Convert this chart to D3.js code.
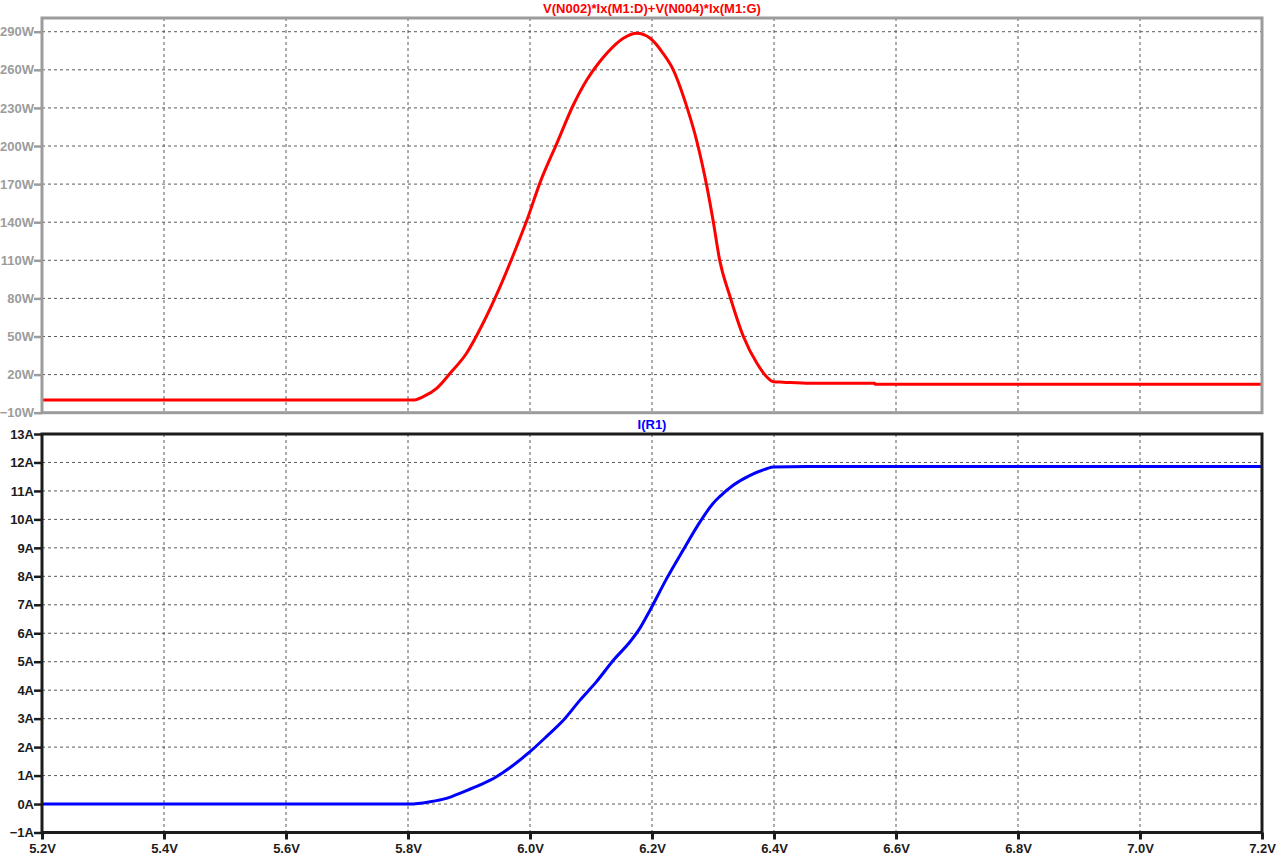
<!DOCTYPE html>
<html>
<head>
<meta charset="utf-8">
<script src="https://cdn.jsdelivr.net/npm/d3@7"></script>
<style>
  body { margin: 0; background: #fff; }
  text { font-family: "Liberation Sans", Arial, sans-serif; font-weight: bold; }
</style>
</head>
<body>
<div id="chart"></div>
<script>
// x values shared by both panes (volts)
let xTicks = [5.2, 5.4, 5.6, 5.8, 6.0, 6.2, 6.4, 6.6, 6.8, 7.0, 7.2]
let powerTicks = [-10, 20, 50, 80, 110, 140, 170, 200, 230, 260, 290]
let currentTicks = [-1, 0, 1, 2, 3, 4, 5, 6, 7, 8, 9, 10, 11, 12, 13]

let powerTitle = "V(N002)*Ix(M1:D)+V(N004)*Ix(M1:G)"
let currentTitle = "I(R1)"

// top trace: power (W)
let powerX = [5.2, 5.811, 5.825, 5.847, 5.869, 5.896, 5.923, 5.951, 5.978, 5.995,
    6.016, 6.044, 6.071, 6.093, 6.112, 6.126, 6.153, 6.175, 6.197, 6.218,
    6.235, 6.257, 6.273, 6.29, 6.3, 6.311, 6.328, 6.35, 6.372, 6.388,
    6.399, 6.415, 6.459, 6.565, 6.566, 7.2]
let powerY = [0, 0, 2.6, 9.2, 21, 36.8, 60.4, 89.2, 120.7, 141.7,
    170.6, 202.1, 232.3, 252, 265, 273, 284.8, 288.7, 284.8, 273,
    259.8, 231, 204.7, 168, 141.7, 110, 81.3, 49.8, 28.9, 18.3,
    14.4, 14, 13.1, 13.1, 12.4, 12.4]

// bottom trace: current (A)
let currentX = [5.2, 5.803, 5.836, 5.863, 5.891, 5.918, 5.945, 5.973, 6.0, 6.027,
    6.055, 6.082, 6.109, 6.137, 6.164, 6.18, 6.197, 6.224, 6.251, 6.279,
    6.3, 6.311, 6.333, 6.36, 6.388, 6.399, 6.455, 7.2]
let currentY = [0, 0, 0.08, 0.2, 0.43, 0.67, 0.96, 1.37, 1.84, 2.37,
    2.95, 3.65, 4.3, 5.06, 5.7, 6.17, 6.82, 7.92, 8.92, 9.92,
    10.56, 10.8, 11.2, 11.54, 11.78, 11.84, 11.86, 11.86]

let width = 1276,
    height = 858,
    left = 42,
    right = 1262

let svg = d3.select("#chart")
    .append("svg")
    .attr("width", width)
    .attr("height", height)

let x = d3.scaleLinear()
    .domain([5.2, 7.2])
    .range([left, right])

let yPower = d3.scaleLinear()
    .domain([-10, 300.8])
    .range([412.7, 18])

let yCurrent = d3.scaleLinear()
    .domain([-1, 13])
    .range([832.5, 434])

function drawPane(y, yTicks, top, bottom, frameColor, labelColor, unit, fmt, title, titleColor, xs, ys, lineColor) {
    let g = svg.append("g")

    // grid
    g.selectAll(".vgrid")
        .data(xTicks)
        .enter()
        .append("line")
        .attr("x1", (d) => x(d))
        .attr("x2", (d) => x(d))
        .attr("y1", top)
        .attr("y2", bottom)
        .attr("stroke", "#5a5a5a")
        .attr("stroke-width", 1)
        .attr("stroke-dasharray", "3,3")
    g.selectAll(".hgrid")
        .data(yTicks)
        .enter()
        .append("line")
        .attr("x1", left)
        .attr("x2", right)
        .attr("y1", (d) => y(d))
        .attr("y2", (d) => y(d))
        .attr("stroke", "#5a5a5a")
        .attr("stroke-width", 1)
        .attr("stroke-dasharray", "3,3")

    // trace
    let line = d3.line()
        .x((d) => x(d[0]))
        .y((d) => y(d[1]))
        .curve(d3.curveMonotoneX)
    g.append("path")
        .datum(xs.map((v, i) => [v, ys[i]]))
        .attr("d", line)
        .attr("fill", "none")
        .attr("stroke", lineColor)
        .attr("stroke-width", 3)

    // frame
    g.append("rect")
        .attr("x", left)
        .attr("y", top)
        .attr("width", right - left)
        .attr("height", bottom - top)
        .attr("fill", "none")
        .attr("stroke", frameColor)
        .attr("stroke-width", 3)

    // y axis
    let axis = g.append("g")
        .attr("transform", "translate(" + left + ",0)")
        .call(d3.axisLeft(y)
            .tickValues(yTicks)
            .tickSizeInner(8)
            .tickSizeOuter(0)
            .tickPadding(0)
            .tickFormat((d) => fmt(d) + unit))
    axis.select(".domain").remove()
    axis.selectAll("line")
        .attr("stroke", frameColor)
        .attr("stroke-width", 2.5)
    axis.selectAll("text")
        .attr("fill", labelColor)
        .style("font-size", "13px")
        .style("font-family", "'Liberation Sans', Arial, sans-serif")
        .style("font-weight", "bold")

    // title
    g.append("text")
        .attr("x", (left + right) / 2)
        .attr("y", top - 5.5)
        .attr("text-anchor", "middle")
        .attr("fill", titleColor)
        .style("font-size", "13px")
        .text(title)
}

drawPane(yPower, powerTicks, 18, 412.7, "#9c9c9c", "#9c9c9c", "W", d3.format("d"),
    powerTitle, "#ff0000", powerX, powerY, "#ff0000")
drawPane(yCurrent, currentTicks, 434, 832.5, "#1c1c1c", "#1c1c1c", "A", d3.format("d"),
    currentTitle, "#0000ff", currentX, currentY, "#0000ff")

// x axis at the bottom
let xAxis = svg.append("g")
    .attr("transform", "translate(0,832.5)")
    .call(d3.axisBottom(x)
        .tickValues(xTicks)
        .tickSizeInner(7)
        .tickSizeOuter(0)
        .tickPadding(4)
        .tickFormat((d) => d3.format(".1f")(d) + "V"))
xAxis.select(".domain").remove()
xAxis.selectAll("line")
    .attr("stroke", "#1c1c1c")
    .attr("stroke-width", 3)
xAxis.selectAll("text")
    .attr("fill", "#1c1c1c")
    .style("font-size", "13px")
    .style("font-family", "'Liberation Sans', Arial, sans-serif")
    .style("font-weight", "bold")
</script>
</body>
</html>
